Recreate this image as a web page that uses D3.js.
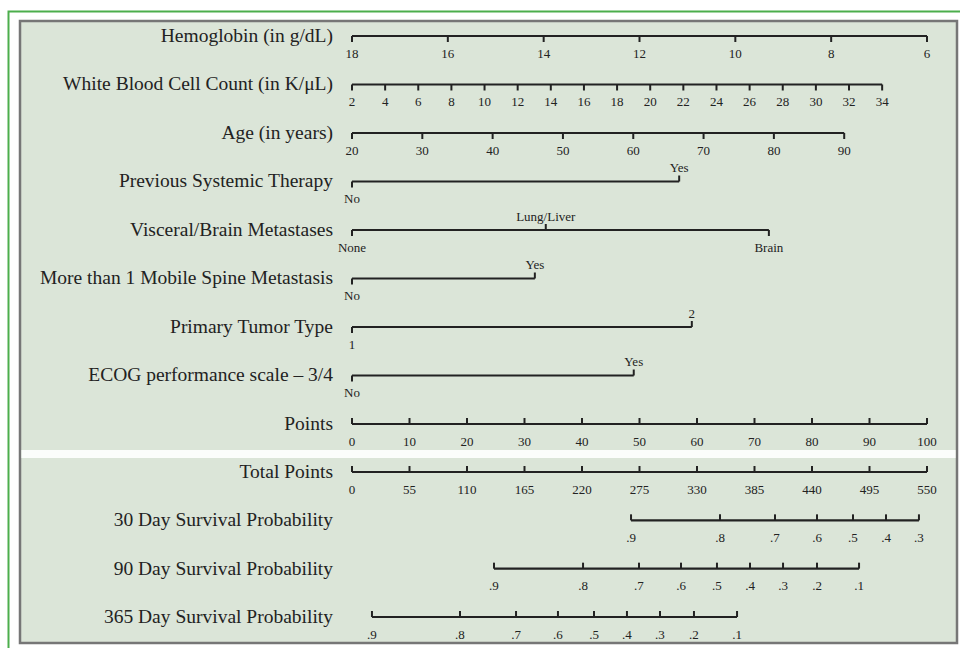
<!DOCTYPE html>
<html>
<head>
<meta charset="utf-8">
<script src="https://cdn.jsdelivr.net/npm/d3@7"></script>
<style>
  body { margin: 0; background: #fff; }
  svg { display: block; }
</style>
</head>
<body>
<script>
// Nomogram data: every value is placed on the Points (0-100) or Total Points (0-550) scale
const hemoglobinTicks = [18, 16, 14, 12, 10, 8, 6];
const hemoglobinRange = [0, 100];            // points at 18 and 6
const wbcTicks = [2, 4, 6, 8, 10, 12, 14, 16, 18, 20, 22, 24, 26, 28, 30, 32, 34];
const wbcRange = [0, 92.2];                  // points at 2 and 34
const ageTicks = [20, 30, 40, 50, 60, 70, 80, 90];
const ageRange = [0, 85.6];                  // points at 20 and 90

const therapyLabels = ["No", "Yes"];
const therapyPoints = [0, 56.9];
const visceralLabels = ["None", "Lung/Liver", "Brain"];
const visceralPoints = [0, 33.7, 72.5];
const spineLabels = ["No", "Yes"];
const spinePoints = [0, 31.8];
const tumorLabels = ["1", "2"];
const tumorPoints = [0, 59.1];
const ecogLabels = ["No", "Yes"];
const ecogPoints = [0, 49.0];

const pointsTicks = [0, 10, 20, 30, 40, 50, 60, 70, 80, 90, 100];
const totalTicks = [0, 55, 110, 165, 220, 275, 330, 385, 440, 495, 550];

const surv30Labels = [".9", ".8", ".7", ".6", ".5", ".4", ".3"];
const surv30Total = [266.9, 352, 404.6, 444.8, 479.2, 510.8, 542.3];
const surv90Labels = [".9", ".8", ".7", ".6", ".5", ".4", ".3", ".2", ".1"];
const surv90Total = [135.8, 221, 274.5, 314.7, 349.1, 380.7, 412.3, 444.8, 485];
const surv365Labels = [".9", ".8", ".7", ".6", ".5", ".4", ".3", ".2", ".1"];
const surv365Total = [19.1, 103.3, 156.9, 197, 231.5, 263, 294.6, 327.1, 368.3];

const width = 960;
const height = 648;
const ink = "#222";
const serif = "'Liberation Serif', 'Times New Roman', serif";

const xPoints = d3.scaleLinear().domain([0, 100]).range([352, 927]);
const xTotal = d3.scaleLinear().domain([0, 550]).range([352, 927]);

const svg = d3.select("body").append("svg")
    .attr("width", width)
    .attr("height", height);

// green frame and shaded panel
svg.append("path")
    .attr("d", "M8.5,660 V11.5 H960")
    .attr("fill", "none")
    .attr("stroke", "#4cae4c")
    .attr("stroke-width", 2);

svg.append("rect")
    .attr("x", 20).attr("y", 21)
    .attr("width", 937).attr("height", 622)
    .attr("fill", "#dbe5d8")
    .attr("stroke", "#767676")
    .attr("stroke-width", 2.5);

svg.append("rect")
    .attr("x", 21.5).attr("y", 450)
    .attr("width", 934).attr("height", 8)
    .attr("fill", "#fbfdfb");

// rows: label, y, and a list of {x, text, side}
const topY = d3.scalePoint().domain(d3.range(9)).range([36, 424]);
const botY = d3.scalePoint().domain(d3.range(4)).range([472, 617]);

function continuous(ticks, rng) {
  const s = d3.scaleLinear().domain([ticks[0], ticks[ticks.length - 1]]).range(rng);
  return ticks.map(t => ({ x: xPoints(s(t)), text: String(t), side: "below" }));
}
function categorical(labels, pts, sides) {
  return labels.map((l, i) => ({ x: xPoints(pts[i]), text: l, side: sides[i] }));
}
function onTotal(labels, totals) {
  return labels.map((l, i) => ({ x: xTotal(totals[i]), text: l, side: "below" }));
}

const rows = [
  { label: "Hemoglobin (in g/dL)", y: topY(0), marks: continuous(hemoglobinTicks, hemoglobinRange), tick: 6 },
  { label: "White Blood Cell Count (in K/\u03bcL)", y: topY(1), marks: continuous(wbcTicks, wbcRange), tick: 6 },
  { label: "Age (in years)", y: topY(2), marks: continuous(ageTicks, ageRange), tick: 6 },
  { label: "Previous Systemic Therapy", y: topY(3), marks: categorical(therapyLabels, therapyPoints, ["below", "above"]) },
  { label: "Visceral/Brain Metastases", y: topY(4), marks: categorical(visceralLabels, visceralPoints, ["below", "above", "below"]) },
  { label: "More than 1 Mobile Spine Metastasis", y: topY(5), marks: categorical(spineLabels, spinePoints, ["below", "above"]) },
  { label: "Primary Tumor Type", y: topY(6), marks: categorical(tumorLabels, tumorPoints, ["below", "above"]) },
  { label: "ECOG performance scale \u2013 3/4", y: topY(7), marks: categorical(ecogLabels, ecogPoints, ["below", "above"]) },
  { label: "Points", y: topY(8), marks: onTotal(pointsTicks.map(String), pointsTicks.map(t => t * 5.5)), tick: -6 },
  { label: "Total Points", y: botY(0), marks: onTotal(totalTicks.map(String), totalTicks), tick: -6 },
  { label: "30 Day Survival Probability", y: botY(1), marks: onTotal(surv30Labels, surv30Total), tick: -6 },
  { label: "90 Day Survival Probability", y: botY(2), marks: onTotal(surv90Labels, surv90Total), tick: -6 },
  { label: "365 Day Survival Probability", y: botY(3), marks: onTotal(surv365Labels, surv365Total), tick: -6 }
];

const row = svg.selectAll(".row")
    .data(rows)
    .enter().append("g")
    .attr("class", "row")
    .attr("transform", d => `translate(0,${d.y})`);

row.append("text")
    .attr("x", 333)
    .attr("y", 0)
    .attr("dy", "0.3em")
    .attr("text-anchor", "end")
    .style("font-family", serif)
    .style("font-size", "19.5px")
    .style("fill", ink)
    .text(d => d.label);

row.append("line")
    .attr("x1", d => d3.min(d.marks, m => m.x))
    .attr("x2", d => d3.max(d.marks, m => m.x))
    .attr("stroke", ink)
    .attr("stroke-width", 2.2);

row.each(function(d) {
  const g = d3.select(this);
  const m = g.selectAll(".mark").data(d.marks).enter().append("g").attr("class", "mark");
  m.append("line")
      .attr("x1", e => e.x).attr("x2", e => e.x)
      .attr("y1", 0)
      .attr("y2", e => d.tick !== undefined ? d.tick : (e.side === "below" ? 6 : -6))
      .attr("stroke", ink)
      .attr("stroke-width", 2);
  m.append("text")
      .attr("x", e => e.x)
      .attr("y", e => e.side === "below" ? 17 : -14)
      .attr("dy", "0.35em")
      .attr("text-anchor", "middle")
      .style("font-family", serif)
      .style("font-size", "13px")
      .style("fill", ink)
      .text(e => e.text);
});
</script>
</body>
</html>
